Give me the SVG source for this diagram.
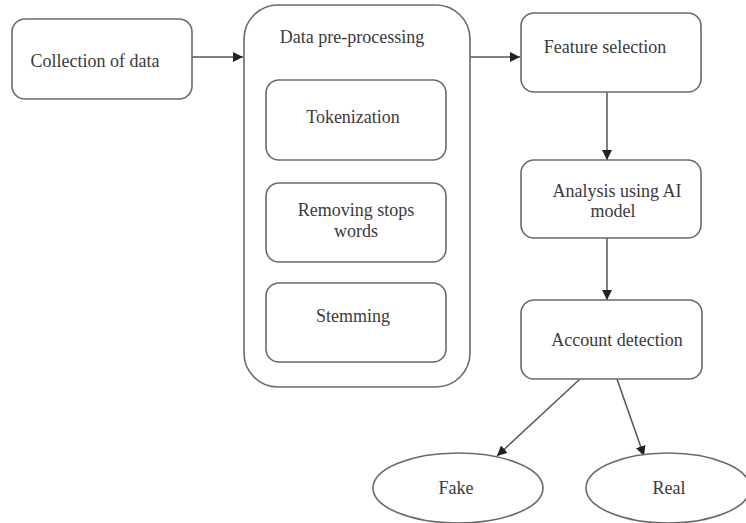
<svg xmlns="http://www.w3.org/2000/svg" width="746" height="523" viewBox="0 0 746 523">
<defs>
<marker id="ah" viewBox="0 0 10 10" refX="10" refY="5" markerWidth="10" markerHeight="10" markerUnits="userSpaceOnUse" orient="auto">
<path d="M0,0 L10,5 L0,10 Z" fill="#222"/>
</marker>
</defs>
<style>
.box{fill:#fff;stroke:#6a6a6a;stroke-width:1.6}
.t{font-family:"Liberation Serif",serif;font-size:18px;fill:#3a3a3a;text-anchor:middle}
.c{stroke:#555;stroke-width:1.5;fill:none;marker-end:url(#ah)}
</style>
<rect width="746" height="523" fill="#fff"/>
<g id="connectors">
<line class="c" x1="192" y1="57" x2="243" y2="57"/>
<line class="c" x1="470" y1="57" x2="520" y2="57"/>
<line class="c" x1="607" y1="92" x2="607" y2="160"/>
<line class="c" x1="607" y1="238" x2="607" y2="300"/>
<line class="c" x1="580" y1="379" x2="497" y2="456"/>
<line class="c" x1="617" y1="379" x2="644" y2="456"/>
</g>
<g id="collection">
<rect class="box" x="12" y="19" width="180" height="80" rx="13"/>
<text class="t" x="95" y="67">Collection of data</text>
</g>
<g id="preprocessing">
<rect class="box" x="244" y="5" width="226" height="382" rx="34"/>
<text class="t" x="352" y="43">Data pre-processing</text>
</g>
<g id="tokenization">
<rect class="box" x="266" y="80" width="180" height="80" rx="13"/>
<text class="t" x="353" y="123">Tokenization</text>
</g>
<g id="removing">
<rect class="box" x="266" y="183" width="180" height="79" rx="13"/>
<text class="t" x="356" y="216">Removing stops</text>
<text class="t" x="356" y="237">words</text>
</g>
<g id="stemming">
<rect class="box" x="266" y="283" width="180" height="79" rx="13"/>
<text class="t" x="353" y="322">Stemming</text>
</g>
<g id="feature">
<rect class="box" x="521" y="13" width="180" height="79" rx="13"/>
<text class="t" x="605" y="53">Feature selection</text>
</g>
<g id="analysis">
<rect class="box" x="521" y="160" width="180" height="78" rx="13"/>
<text class="t" x="617" y="197">Analysis using AI</text>
<text class="t" x="613" y="217">model</text>
</g>
<g id="account">
<rect class="box" x="521" y="300" width="181" height="79" rx="13"/>
<text class="t" x="617" y="346">Account detection</text>
</g>
<g id="fake">
<ellipse class="box" cx="458" cy="488" rx="85" ry="35"/>
<text class="t" x="456" y="494">Fake</text>
</g>
<g id="real">
<ellipse class="box" cx="668" cy="488" rx="82" ry="35"/>
<text class="t" x="669" y="494">Real</text>
</g>
</svg>
